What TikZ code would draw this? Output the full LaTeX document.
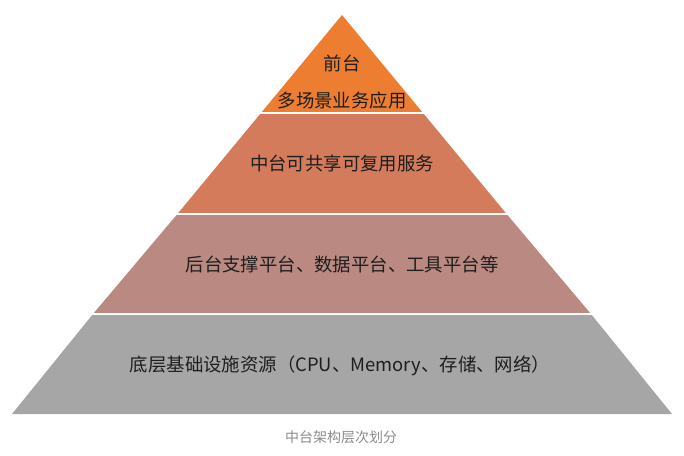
\documentclass[tikz,border=0pt]{standalone}
\usepackage{fontspec}
\newfontfamily\cjk{Noto Sans CJK SC}
\definecolor{layerA}{RGB}{237,125,49}
\definecolor{layerB}{RGB}{212,123,92}
\definecolor{layerC}{RGB}{186,138,130}
\definecolor{layerD}{RGB}{165,166,165}
\definecolor{txt}{RGB}{30,30,30}
\definecolor{captxt}{RGB}{140,140,140}
\tikzset{
  lbl/.style={font=\cjk\fontsize{18.4}{22}\selectfont, text=txt, inner sep=0pt, anchor=center},
  captionlbl/.style={font=\cjk\fontsize{14}{17}\selectfont, text=captxt, inner sep=0pt, anchor=center},
  sepline/.style={draw=white, line width=1.6pt}
}
\begin{document}
\begin{tikzpicture}[x=1pt,y=-1pt]
\useasboundingbox (0,0) rectangle (684,455);
\fill[white] (0,0) rectangle (684,455);
% corner coordinates
\coordinate (apex) at (342,15);
\coordinate (l1) at (261,113);  \coordinate (r1) at (423,113);
\coordinate (l2) at (177.4,214); \coordinate (r2) at (506.6,214);
\coordinate (l3) at (93,314);   \coordinate (r3) at (591,314);
\coordinate (l4) at (12,414);   \coordinate (r4) at (672,414);
% layers
\fill[layerA] (apex) -- (r1) -- (l1) -- cycle;
\fill[layerB] (l1) -- (r1) -- (r2) -- (l2) -- cycle;
\fill[layerC] (l2) -- (r2) -- (r3) -- (l3) -- cycle;
\fill[layerD] (l3) -- (r3) -- (r4) -- (l4) -- cycle;
% separators
\draw[sepline] ([xshift=-3pt]l1) -- ([xshift=3pt]r1);
\draw[sepline] ([xshift=-3pt]l2) -- ([xshift=3pt]r2);
\draw[sepline] ([xshift=-3pt]l3) -- ([xshift=3pt]r3);
% labels
\node[lbl] (t1a) at (342,63) {前台};
\node[lbl] (t1b) at (342,100) {多场景业务应用};
\node[lbl] (t2) at (342,163) {中台可共享可复用服务};
\node[lbl] (t3) at (342,264) {后台支撑平台、数据平台、工具平台等};
\node[lbl] (t4) at (340,366) {底层基础设施资源（CPU、Memory、存储、网络）};
\node[captionlbl] (caption) at (341,437) {中台架构层次划分};
\end{tikzpicture}
\end{document}
